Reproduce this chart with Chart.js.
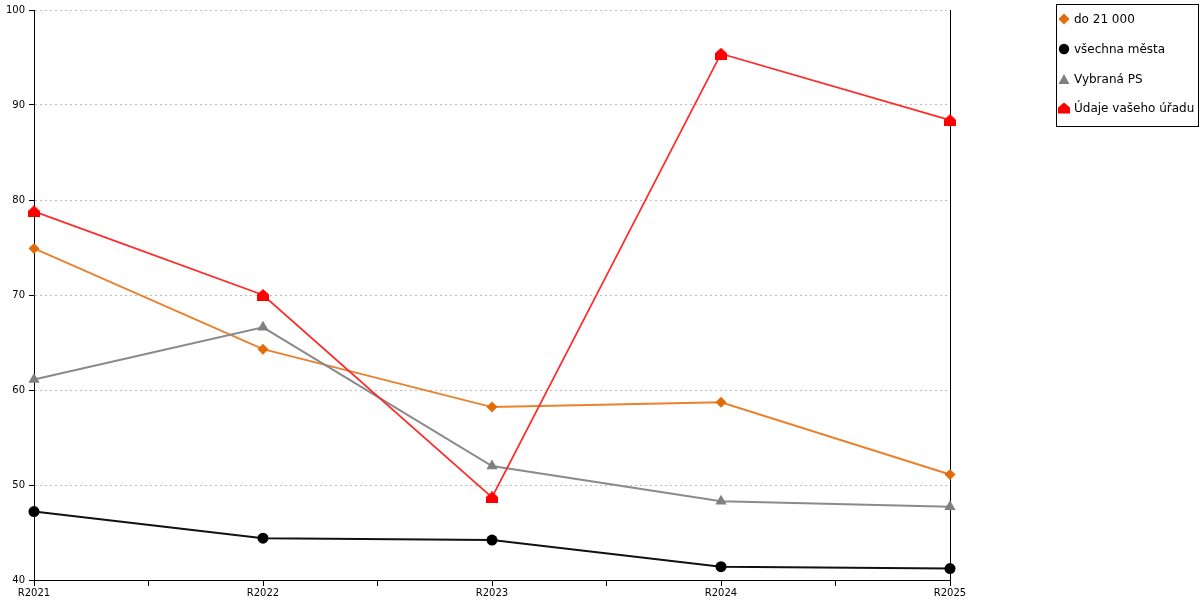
<!DOCTYPE html>
<html>
<head>
<meta charset="utf-8">
<script src="https://cdn.jsdelivr.net/npm/chart.js@4.4.1/dist/chart.umd.min.js"></script>
<style>
  html,body{margin:0;padding:0;background:#fff;}
  #wrap{position:relative;width:1200px;height:600px;}
  #legend{position:absolute;left:1056px;top:4px;width:143px;height:123px;border:1px solid #000;box-sizing:border-box;
    font-family:"DejaVu Sans",sans-serif;font-size:12px;color:#000;}
  .item{position:absolute;left:0;height:16px;line-height:16px;white-space:nowrap;}
  .item svg{position:absolute;left:0;top:2px;}
  .item span{position:absolute;left:16px;top:0;}
</style>
</head>
<body>
<div id="wrap">
  <canvas id="c" width="1200" height="600"></canvas>
  <div id="legend"></div>
</div>
<script>
const categories = ["R2021", "R2022", "R2023", "R2024", "R2025"];
const seriesNames = ["do 21 000", "všechna města", "Vybraná PS", "Údaje vašeho úřadu"];
const do21000 = [74.9, 64.3, 58.2, 58.7, 51.1];
const vsechnaMesta = [47.2, 44.4, 44.2, 41.4, 41.2];
const vybranaPS = [61.1, 66.6, 52.0, 48.3, 47.7];
const udajeUradu = [78.8, 70.0, 48.7, 95.4, 88.4];
const yTicks = [40, 50, 60, 70, 80, 90, 100];

function houseCanvas(color, w, h) {
  const c = document.createElement('canvas');
  c.width = w; c.height = h;
  const g = c.getContext('2d');
  g.fillStyle = color;
  g.beginPath();
  g.moveTo(w / 2, 0);
  g.lineTo(w, h * 0.45);
  g.lineTo(w, h);
  g.lineTo(0, h);
  g.lineTo(0, h * 0.45);
  g.closePath();
  g.fill();
  return c;
}
const house = houseCanvas('#ff0000', 12, 12);

function pts(arr) { return arr.map((v, i) => ({ x: i, y: v })); }

const rightBorder = {
  id: 'rightBorder',
  beforeDatasetsDraw(chart) {
    const { ctx, chartArea } = chart;
    ctx.save();
    ctx.strokeStyle = '#000';
    ctx.lineWidth = 1;
    ctx.beginPath();
    ctx.moveTo(Math.round(chartArea.right) + 0.5, chartArea.top);
    ctx.lineTo(Math.round(chartArea.right) + 0.5, chartArea.bottom);
    ctx.stroke();
    ctx.restore();
  }
};

const font = { family: '"DejaVu Sans", sans-serif', size: 10 };

new Chart(document.getElementById('c'), {
  type: 'line',
  data: {
    datasets: [
      { label: seriesNames[0], data: pts(do21000), borderColor: '#e8822e', backgroundColor: '#e36c0a',
        pointBackgroundColor: '#e36c0a', pointBorderColor: '#e36c0a', pointStyle: 'rectRot', pointRadius: 5.5, pointBorderWidth: 0,
        borderWidth: 2, order: 4, clip: false },
      { label: seriesNames[1], data: pts(vsechnaMesta), borderColor: '#111', backgroundColor: '#000',
        pointBackgroundColor: '#000', pointBorderColor: '#000', pointStyle: 'circle', pointRadius: 5.5, pointBorderWidth: 0,
        borderWidth: 2, order: 3, clip: false },
      { label: seriesNames[2], data: pts(vybranaPS), borderColor: '#8a8a8a', backgroundColor: '#808080',
        pointBackgroundColor: '#808080', pointBorderColor: '#808080', pointStyle: 'triangle', pointRadius: 6.5, pointBorderWidth: 0,
        borderWidth: 2, order: 2, clip: false },
      { label: seriesNames[3], data: pts(udajeUradu), borderColor: '#ff2a2a', backgroundColor: '#ff0000',
        pointStyle: house, pointRadius: 6, borderWidth: 1.8, order: 1, clip: false }
    ]
  },
  options: {
    responsive: false,
    animation: false,
    events: [],
    layout: { padding: { left: 0, right: 250, top: 10, bottom: 0 } },
    plugins: { legend: { display: false }, tooltip: { enabled: false } },
    elements: { line: { tension: 0 } },
    scales: {
      x: {
        type: 'linear', min: 0, max: categories.length - 1,
        afterBuildTicks(s) {
          const t = [];
          for (let v = 0; v <= categories.length - 1 + 1e-9; v += 0.5) t.push({ value: v });
          s.ticks = t;
        },
        afterFit(s) { s.height = 20; },
        ticks: {
          autoSkip: false, maxRotation: 0, padding: 1, color: '#000', font,
          callback: (v) => Number.isInteger(v) ? categories[v] : ''
        },
        grid: { drawOnChartArea: false, tickLength: 6, color: '#000', tickColor: '#000' },
        border: { color: '#000', width: 1 }
      },
      y: {
        min: yTicks[0], max: yTicks[yTicks.length - 1],
        afterBuildTicks(s) { s.ticks = yTicks.map(v => ({ value: v })); },
        afterFit(s) { s.width = 34; },
        ticks: { color: '#000', font, padding: 4 },
        grid: { color: '#bdbdbd', tickColor: '#000', tickLength: 5, drawTicks: true, tickBorderDash: [] },
        border: { color: '#000', width: 1, dash: [2, 3] }
      }
    }
  },
  plugins: [rightBorder]
});

// HTML legend
const legendMarkers = [
  '<svg width="12" height="12"><polygon points="6,0.5 11.5,6 6,11.5 0.5,6" fill="#e36c0a"/></svg>',
  '<svg width="12" height="12"><circle cx="6" cy="6" r="5.2" fill="#000"/></svg>',
  '<svg width="12" height="12"><polygon points="6,1 11.5,11 0.5,11" fill="#808080"/></svg>',
  '<svg width="12" height="12"><polygon points="6,0.5 12,5.5 12,11.5 0,11.5 0,5.5" fill="#ff0000"/></svg>'
];
const lg = document.getElementById('legend');
seriesNames.forEach((n, i) => {
  const d = document.createElement('div');
  d.className = 'item';
  d.style.top = (6 + i * 29.8) + 'px';
  d.style.left = '1px';
  d.innerHTML = legendMarkers[i] + '<span></span>';
  d.querySelector('span').textContent = n;
  lg.appendChild(d);
});
</script>
</body>
</html>
